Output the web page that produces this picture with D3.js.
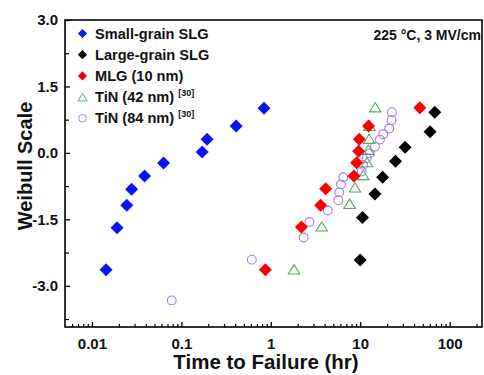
<!DOCTYPE html>
<html>
<head>
<meta charset="utf-8">
<script src="https://cdn.jsdelivr.net/npm/d3@7"></script>
<style>
  body { margin: 0; background: #fff; }
  text { font-family: "Liberation Sans", Arial, sans-serif; font-weight: bold; }
</style>
</head>
<body>
<svg id="chart" width="484" height="375"></svg>
<script>
// ---- Data ----
const smallGrainX = [0.0144, 0.0191, 0.0245, 0.0278, 0.0388, 0.0633, 0.171, 0.194, 0.41, 0.84];
const smallGrainY = [-2.64, -1.69, -1.18, -0.82, -0.52, -0.23, 0.02, 0.31, 0.61, 1.01];

const largeGrainX = [10.0, 10.6, 14.6, 17.8, 24.8, 31.8, 60.4, 68.2];
const largeGrainY = [-2.42, -1.46, -0.93, -0.55, -0.19, 0.13, 0.48, 0.92];

const mlgX = [0.87, 2.20, 3.61, 4.11, 8.51, 9.12, 9.60, 9.75, 12.4, 46.4];
const mlgY = [-2.64, -1.67, -1.18, -0.81, -0.52, -0.22, 0.04, 0.31, 0.61, 1.02];

const tin42X = [1.82, 3.71, 7.61, 8.73, 10.8, 11.9, 12.3, 12.6, 12.7, 14.7];
const tin42Y = [-2.64, -1.67, -1.16, -0.79, -0.51, -0.22, 0.06, 0.31, 0.60, 1.02];

const tin84X = [0.078, 0.614, 2.33, 2.70, 4.33, 5.68, 5.83, 6.09, 6.46, 10.4, 10.8, 11.8, 12.8, 14.6, 16.6, 18.1, 21.1, 22.4, 22.6];
const tin84Y = [-3.33, -2.41, -1.91, -1.56, -1.30, -1.07, -0.89, -0.71, -0.55, -0.42, -0.27, -0.12, -0.01, 0.14, 0.30, 0.42, 0.55, 0.74, 0.92];

const xTickValues = [0.01, 0.1, 1, 10, 100];
const xTickLabels = ["0.01", "0.1", "1", "10", "100"];
const yTickValues = [-3.0, -1.5, 0.0, 1.5, 3.0];
const yTickLabels = ["-3.0", "-1.5", "0.0", "1.5", "3.0"];

const seriesNames = ["Small-grain SLG", "Large-grain SLG", "MLG (10 nm)", "TiN (42 nm)", "TiN (84 nm)"];
const seriesRefs = ["", "", "", "[30]", "[30]"];

// ---- Layout ----
const L = 65, T = 20, R = 482, B = 327;
const svg = d3.select("#chart");

const x = d3.scaleLog().domain([0.005, 230]).range([L, R]);
const y = d3.scaleLinear().domain([-3.93, 3.0]).range([B, T]);

// frame
svg.append("rect").attr("x", L).attr("y", T).attr("width", R - L).attr("height", B - T)
  .attr("fill", "none").attr("stroke", "#000").attr("stroke-width", 1.6);

// x ticks (inward)
const xMajor = xTickValues;
const xMinor = [];
for (let e = -3; e <= 2; e++) for (let m = 2; m <= 9; m++) {
  const v = m * Math.pow(10, e);
  if (v > 0.005 && v < 230) xMinor.push(v);
}
const gx = svg.append("g").attr("transform", `translate(0,${B})`);
gx.call(d3.axisBottom(x).tickValues(xMajor).tickSize(-5).tickFormat((d, i) => xTickLabels[i]).tickPadding(11));
gx.select(".domain").remove();
gx.selectAll("text").attr("font-size", 15).attr("fill", "#111").attr("font-family", "Liberation Sans, Arial, sans-serif").attr("font-weight", "bold");
gx.selectAll("line").attr("stroke", "#000").attr("stroke-width", 1.3);
svg.append("g").attr("transform", `translate(0,${B})`)
  .call(d3.axisBottom(x).tickValues(xMinor).tickSize(-3).tickFormat(""))
  .call(g => g.select(".domain").remove())
  .selectAll("line").attr("stroke", "#000").attr("stroke-width", 1.2);

// y ticks (inward)
const yMinor = [-3.75, -2.25, -0.75, 0.75, 2.25];
const gy = svg.append("g").attr("transform", `translate(${L},0)`);
gy.call(d3.axisLeft(y).tickValues(yTickValues).tickSize(-5).tickFormat((d, i) => yTickLabels[i]).tickPadding(7));
gy.select(".domain").remove();
gy.selectAll("text").attr("font-size", 15).attr("fill", "#111").attr("font-family", "Liberation Sans, Arial, sans-serif").attr("font-weight", "bold");
gy.selectAll("line").attr("stroke", "#000").attr("stroke-width", 1.3);
svg.append("g").attr("transform", `translate(${L},0)`)
  .call(d3.axisLeft(y).tickValues(yMinor).tickSize(-4).tickFormat(""))
  .call(g => g.select(".domain").remove())
  .selectAll("line").attr("stroke", "#000").attr("stroke-width", 1.2);

// axis titles
svg.append("text").attr("x", 266).attr("y", 369).attr("text-anchor", "middle")
  .attr("font-size", 20.5).attr("fill", "#111").text("Time to Failure (hr)");
svg.append("text").attr("transform", "translate(32,166) rotate(-90)").attr("text-anchor", "middle")
  .attr("font-size", 20).attr("fill", "#111").text("Weibull Scale");

// annotation
svg.append("text").attr("x", 481).attr("y", 40).attr("text-anchor", "end")
  .attr("font-size", 14).attr("fill", "#111").text("225 °C, 3 MV/cm");

// markers
function diamondPath(h) { return `M0,${-h}L${h},0L0,${h}L${-h},0Z`; }
function trianglePath(h) { return `M0,${-h}L${h * 1.1},${h * 0.8}L${-h * 1.1},${h * 0.8}Z`; }

const zip = (xs, ys) => xs.map((v, i) => [v, ys[i]]);

function drawDiamonds(data, color) {
  svg.append("g").selectAll("path").data(data).join("path")
    .attr("transform", d => `translate(${x(d[0])},${y(d[1])})`)
    .attr("d", diamondPath(6.5)).attr("fill", color);
}

// open circles (84 nm) first, then triangles, then diamonds
const purple = "#a57ae8";
const green = "#5ea55e";
svg.append("g").selectAll("circle").data(zip(tin84X, tin84Y)).join("circle")
  .attr("cx", d => x(d[0])).attr("cy", d => y(d[1])).attr("r", 4.4)
  .attr("fill", "none").attr("stroke", purple).attr("stroke-width", 1.1);
svg.append("g").selectAll("path").data(zip(tin42X, tin42Y)).join("path")
  .attr("transform", d => `translate(${x(d[0])},${y(d[1])})`)
  .attr("d", trianglePath(5.2)).attr("fill", "none").attr("stroke", green).attr("stroke-width", 1.1);
drawDiamonds(zip(smallGrainX, smallGrainY), "#0a14f0");
drawDiamonds(zip(largeGrainX, largeGrainY), "#000");
drawDiamonds(zip(mlgX, mlgY), "#fa0000");

// legend
const legColors = ["#0a14f0", "#000", "#fa0000", green, purple];
const legY0 = 33.5, legDY = 21.2, legMX = 82.5, legTX = 95;
seriesNames.forEach((name, i) => {
  const cy = legY0 + i * legDY;
  if (i < 3) {
    svg.append("path").attr("transform", `translate(${legMX},${cy})`).attr("d", diamondPath(4.6)).attr("fill", legColors[i]);
  } else if (i === 3) {
    svg.append("path").attr("transform", `translate(${legMX},${cy + 0.5})`).attr("d", trianglePath(4.2))
      .attr("fill", "none").attr("stroke", green).attr("stroke-width", 1);
  } else {
    svg.append("circle").attr("cx", legMX).attr("cy", cy).attr("r", 3.8)
      .attr("fill", "none").attr("stroke", purple).attr("stroke-width", 1);
  }
  const t = svg.append("text").attr("x", legTX).attr("y", cy + 5).attr("font-size", 14.6).attr("fill", "#111");
  t.append("tspan").text(name);
  if (seriesRefs[i]) {
    t.append("tspan").attr("dx", 4).attr("dy", -6).attr("font-size", 9).text(seriesRefs[i]);
  }
});
</script>
</body>
</html>
